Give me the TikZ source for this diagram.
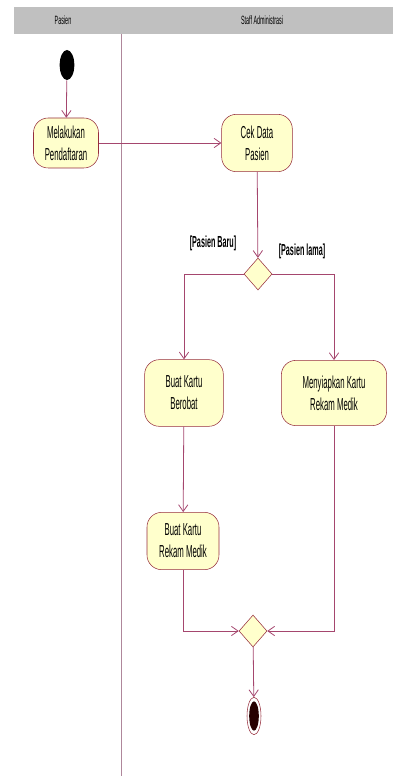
\documentclass[tikz,border=0pt]{standalone}
\usepackage{fontspec}
\newfontfamily\umlfont[FakeStretch=0.45]{Liberation Sans}
\usetikzlibrary{arrows.meta,shapes.geometric}
\definecolor{umlline}{RGB}{165,70,110}
\definecolor{umlborder}{RGB}{150,45,60}
\definecolor{umlfill}{RGB}{255,255,204}
\definecolor{laneline}{RGB}{175,135,155}
\definecolor{headgray}{RGB}{192,192,192}
\tikzset{
  activity/.style={draw=umlborder, fill=umlfill, rounded corners=11pt, align=center,
    inner sep=0pt, font=\umlfont\fontsize{13}{16.5}\selectfont},
  decision/.style={diamond, draw=umlborder, fill=umlfill, inner sep=0pt,
    minimum width=21pt, minimum height=24pt},
  flow/.style={draw=umlline, line width=0.6pt, -{Straight Barb[length=5pt,width=7pt]}},
  guard/.style={font=\umlfont\bfseries\fontsize{12}{14}\selectfont},
  lanehead/.style={font=\umlfont\fontsize{9}{11}\selectfont}
}

\begin{document}
\begin{tikzpicture}[x=0.75pt,y=-0.75pt]
\useasboundingbox (0,0) rectangle (393,780);
% swimlanes
\fill[headgray] (14,7) rectangle (393,34);
\node[lanehead] (lanePasien) at (63,20) {Pasien};
\node[lanehead] (laneStaff) at (262,20) {Staff Administrasi};
\draw[laneline, line width=0.6pt] (121,34) -- (121,776);
% nodes
\node[ellipse, fill=black, inner sep=0pt, minimum width=11pt, minimum height=22.5pt] (start) at (67,65) {};
\node[activity, minimum width=48.75pt, minimum height=37.5pt] (daftar) at (66,143) {Melakukan\\Pendaftaran};
\node[activity, minimum width=53pt, minimum height=43pt] (cek) at (257,143) {Cek Data\\Pasien};
\node[decision] (cabang) at (258,274) {};
\node[activity, minimum width=59pt, minimum height=50pt] (berobat) at (184,393) {Buat Kartu\\Berobat};
\node[activity, minimum width=79pt, minimum height=49pt] (siapkan) at (334,393) {Menyiapkan Kartu\\Rekam Medik};
\node[activity, minimum width=54pt, minimum height=43pt] (rekam) at (183,541) {Buat Kartu\\Rekam Medik};
\node[decision] (gabung) at (253,631) {};
\node[ellipse, draw=umlborder, inner sep=0pt, minimum width=10.5pt, minimum height=28pt] (finish) at (254,716) {};
\fill[black!85!red] (finish.center) ellipse (3.6pt and 11pt);
% guards
\node[guard] (gBaru) at (213,243) {[Pasien Baru]};
\node[guard] (gLama) at (302,251) {[Pasien lama]};
% flows
\draw[flow] (start) -- (daftar);
\draw[flow] (daftar) -- (cek);
\draw[flow] (cek) -- (cabang);
\draw[flow] (cabang) -| (berobat);
\draw[flow] (cabang) -| (siapkan);
\draw[flow] (berobat) -- (rekam);
\draw[flow] (rekam) |- (gabung);
\draw[flow] (siapkan) |- (gabung);
\draw[flow] (gabung) -- (finish);
\end{tikzpicture}
\end{document}
